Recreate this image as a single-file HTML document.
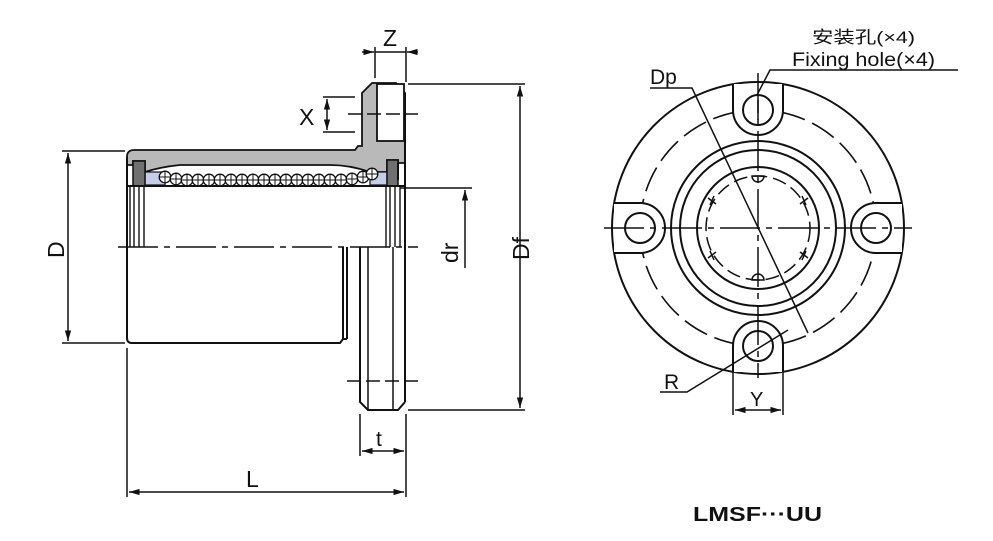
<!DOCTYPE html>
<html><head><meta charset="utf-8"><style>
html,body{margin:0;padding:0;background:#fff}
svg{display:block}
text{font-family:"Liberation Sans","Noto Sans CJK SC",sans-serif;fill:#111}
</style></head><body>
<svg width="993" height="541" viewBox="0 0 993 541" xmlns="http://www.w3.org/2000/svg">
<defs>
<marker id="a" viewBox="0 0 10 10" refX="10" refY="5" markerWidth="7" markerHeight="7" orient="auto-start-reverse"><path d="M0,2 L10,5 L0,8 z" fill="#111"/></marker>
<g id="b"><circle r="5.8" fill="#fff" stroke="#111" stroke-width="1.3"/><path d="M-5.8,0 H5.8 M0,-5.8 V5.8" stroke="#111" stroke-width="1"/></g>
</defs>
<g stroke="#111" stroke-width="2" fill="none">
<path d="M127,157 Q127,150 134,150 L355,150 L358,146 L362,146 L362,93 L372,83 L396,83 L405,93 L405,163 L398,163 L398,160 L387,160 L387,172 L370,172 Q350,165 330,165 L180,165 Q160,167 145,172 L145,161 L133,161 L133,165 L127,165 Z" fill="#b9b9b9" stroke-width="1.8"/>
<rect x="377" y="84" width="27" height="57" fill="#fff" stroke-width="1.8"/>
<rect x="145" y="172" width="20" height="13" fill="#c5cde8" stroke-width="1.2"/>
<rect x="370" y="172" width="17" height="13" fill="#c5cde8" stroke-width="1.2"/>
<rect x="133" y="161" width="12" height="25" fill="#707070" stroke-width="1.5"/>
<rect x="387" y="160" width="11" height="26" fill="#707070" stroke-width="1.5"/>
<line x1="398" y1="163" x2="398" y2="180"/>
<line x1="127" y1="186" x2="405" y2="186"/>
<line x1="127" y1="157" x2="127" y2="338"/>
<path d="M127,338 Q127,343 132,343 L340,343 L343,339 L347,339"/>
<line x1="343" y1="247" x2="343" y2="339"/>
<line x1="347" y1="247" x2="347" y2="339"/>
<line x1="405" y1="93" x2="405" y2="402"/>
<path d="M360,247 L360,402 L368,410 L398,410 L405,402"/>
<line x1="368" y1="247" x2="368" y2="410" stroke-width="1.5"/>
<line x1="393" y1="247" x2="393" y2="410" stroke-width="1.5"/>
<g stroke-width="1.4">
<line x1="130" y1="186" x2="130" y2="247"/><line x1="134" y1="186" x2="134" y2="247"/><line x1="139" y1="186" x2="139" y2="247"/><line x1="144" y1="186" x2="144" y2="247"/>
<line x1="386" y1="186" x2="386" y2="247"/><line x1="390" y1="186" x2="390" y2="247"/><line x1="395" y1="186" x2="395" y2="247"/><line x1="400" y1="186" x2="400" y2="247"/>
</g>
<line x1="118" y1="247" x2="418" y2="247" stroke-dasharray="40,6,6,6" stroke-width="1.5"/>
<line x1="348" y1="114" x2="418" y2="114" stroke-dasharray="14,5" stroke-width="1.5"/>
<line x1="347" y1="381" x2="418" y2="381" stroke-dasharray="14,5" stroke-width="1.5"/>
</g>
<use href="#b" x="165" y="177"/><use href="#b" x="176" y="179"/><use href="#b" x="187" y="180"/><use href="#b" x="198" y="180"/><use href="#b" x="209" y="180"/><use href="#b" x="220" y="180"/><use href="#b" x="231" y="180"/><use href="#b" x="242" y="180"/><use href="#b" x="253" y="180"/><use href="#b" x="264" y="180"/><use href="#b" x="275" y="180"/><use href="#b" x="286" y="180"/><use href="#b" x="297" y="180"/><use href="#b" x="308" y="180"/><use href="#b" x="319" y="180"/><use href="#b" x="330" y="180"/><use href="#b" x="341" y="180"/><use href="#b" x="352" y="179"/><use href="#b" x="363" y="177"/><use href="#b" x="372" y="174"/>
<g stroke="#111" stroke-width="1.5" fill="none">
<line x1="62" y1="151" x2="125" y2="151"/><line x1="62" y1="343" x2="125" y2="343"/>
<line x1="68" y1="153" x2="68" y2="341" marker-start="url(#a)" marker-end="url(#a)"/>
<line x1="127" y1="348" x2="127" y2="497"/><line x1="406" y1="414" x2="406" y2="497"/>
<line x1="129" y1="492" x2="404" y2="492" marker-start="url(#a)" marker-end="url(#a)"/>
<line x1="360" y1="414" x2="360" y2="456"/>
<line x1="362" y1="451" x2="404" y2="451" marker-start="url(#a)" marker-end="url(#a)"/>
<line x1="375" y1="47" x2="375" y2="78"/><line x1="406" y1="47" x2="406" y2="82"/>
<line x1="362" y1="52" x2="374" y2="52" marker-end="url(#a)"/>
<line x1="418" y1="52" x2="407" y2="52" marker-end="url(#a)"/>
<line x1="375" y1="52" x2="406" y2="52"/>
<line x1="323" y1="97" x2="355" y2="97"/><line x1="323" y1="132" x2="355" y2="132"/>
<line x1="327" y1="99" x2="327" y2="130" marker-start="url(#a)" marker-end="url(#a)"/>
<line x1="408" y1="84" x2="525" y2="84"/><line x1="408" y1="410" x2="525" y2="410"/>
<line x1="520" y1="86" x2="520" y2="408" marker-start="url(#a)" marker-end="url(#a)"/>
<line x1="400" y1="188" x2="472" y2="188"/>
<line x1="465" y1="268" x2="465" y2="190" marker-end="url(#a)"/>
</g>
<g font-size="23">
<text x="0" y="0" transform="translate(64,258) rotate(-90)">D</text>
<text x="0" y="0" transform="translate(458,263) rotate(-90)">dr</text>
<text x="0" y="0" transform="translate(529,260) rotate(-90)">Df</text>
<text x="246" y="487">L</text>
<text x="376" y="446" font-size="21">t</text>
<text x="383" y="46">Z</text>
<text x="299" y="125">X</text>
</g>
<g stroke="#111" stroke-width="2" fill="none">
<circle cx="758" cy="228" r="146"/>
<circle cx="758" cy="228" r="118" stroke-dasharray="26,8" stroke-width="1.6"/>
<circle cx="758" cy="228" r="87"/>
<circle cx="758" cy="228" r="78"/>
<circle cx="758" cy="228" r="61"/>
<circle cx="758" cy="228" r="52" stroke-dasharray="14,6" stroke-width="1.5"/>
<g fill="#fff">
<path d="M733,84 L733,110 A25,25 0 0 0 783,110 L783,84"/>
<path d="M733,372 L733,346 A25,25 0 0 1 783,346 L783,372"/>
<path d="M614,203 L640,203 A25,25 0 0 1 640,253 L614,253"/>
<path d="M902,203 L876,203 A25,25 0 0 0 876,253 L902,253"/>
</g>
<circle cx="758" cy="110" r="15"/><circle cx="758" cy="346" r="15"/>
<circle cx="640" cy="228" r="15"/><circle cx="876" cy="228" r="15"/>
<g stroke-width="1.5">
<path d="M752,176 A6,6 0 0 0 764,176 Z"/><path d="M752,280 A6,6 0 0 1 764,280 Z"/>
<path d="M708,198 l8,6 M714,196 l-4,9"/><path d="M808,198 l-8,6 M802,196 l4,9"/>
<path d="M708,258 l8,-6 M714,260 l-4,-9"/><path d="M808,258 l-8,-6 M802,260 l4,-9"/>
</g>
<g stroke-width="1.5" stroke-dasharray="40,6,6,6">
<line x1="604" y1="228" x2="912" y2="228"/>
<line x1="758" y1="73" x2="758" y2="378"/>
</g>
<line x1="758" y1="100" x2="758" y2="120" stroke-width="1.5"/>
<g stroke-width="1.5">
<path d="M958,70 L770,70 L757,95"/>
<path d="M650,88 L692,88 L808,333"/>
<path d="M660,392 L687,392 L788,330"/>
<line x1="733" y1="372" x2="733" y2="415"/><line x1="783" y1="372" x2="783" y2="415"/>
<line x1="735" y1="410" x2="781" y2="410" marker-start="url(#a)" marker-end="url(#a)"/>
</g>
</g>
<text x="812" y="43" font-size="17" textLength="103" lengthAdjust="spacingAndGlyphs">安装孔(×4)</text>
<text x="792" y="66" font-size="19" textLength="143" lengthAdjust="spacingAndGlyphs">Fixing hole(×4)</text>
<text x="650" y="84" font-size="21">Dp</text>
<text x="664" y="389" font-size="21">R</text>
<text x="750" y="406" font-size="20">Y</text>
<text x="693" y="521" font-size="20" font-weight="bold" textLength="129" lengthAdjust="spacingAndGlyphs">LMSF···UU</text>
</svg>
</body></html>
